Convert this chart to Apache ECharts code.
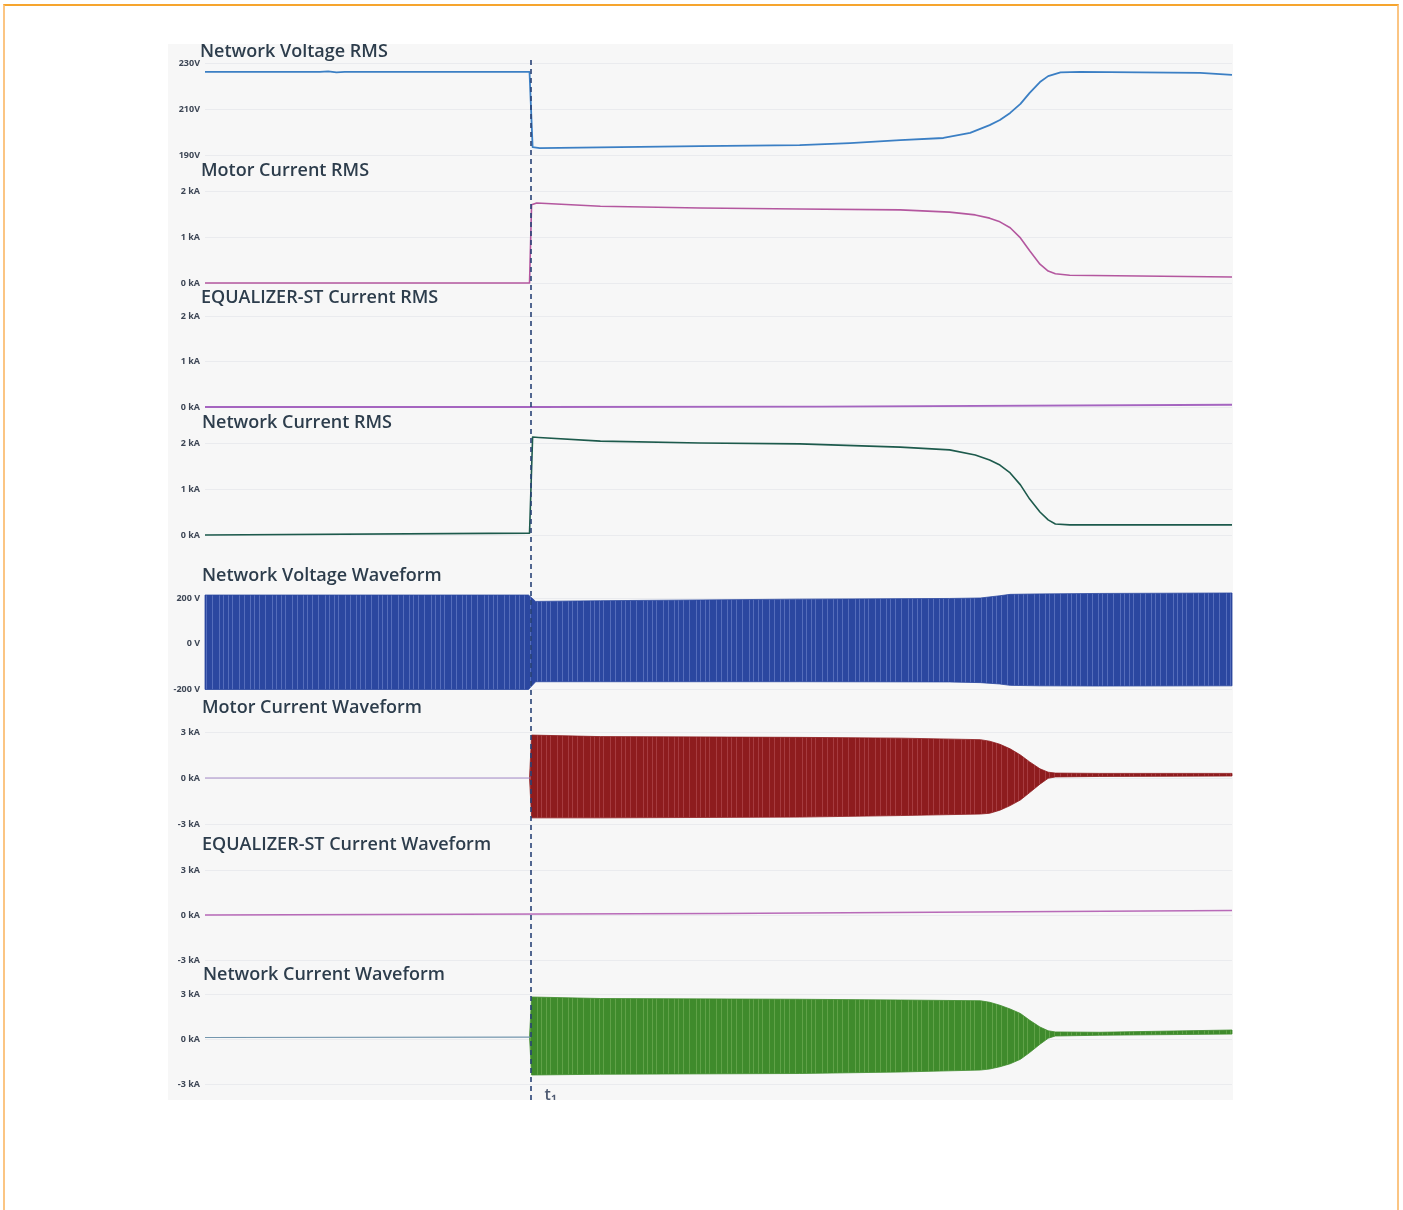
<!DOCTYPE html>
<html><head><meta charset="utf-8">
<script src="https://cdn.jsdelivr.net/npm/echarts@6/dist/echarts.min.js"></script>
<style>
html,body{margin:0;padding:0;background:#fff;width:1403px;height:1210px;overflow:hidden;}
#frame{position:absolute;left:3px;top:4px;width:1396px;height:1230px;border-top:2px solid #f6a52e;border-left:2px solid #fbc583;border-right:2px solid #fbc583;box-sizing:border-box;}
#chart{position:absolute;left:168px;top:44px;width:1065px;height:1056px;background:#f7f7f7;}
</style></head><body>
<div id="frame"></div>
<div id="chart"></div>
<script>
// ---------- DATA (time axis is unitless 0..100) ----------
const EVENT_T = 31.7;
const EVENT_LABEL = 't₁';

const panelTitles = [
  'Network Voltage RMS',
  'Motor Current RMS',
  'EQUALIZER-ST Current RMS',
  'Network Current RMS',
  'Network Voltage Waveform',
  'Motor Current Waveform',
  'EQUALIZER-ST Current Waveform',
  'Network Current Waveform'
];

// tick values / labels per panel
const vRmsTicks = [190, 210, 230];
const vRmsLabels = ['190V', '210V', '230V'];
const iRmsTicks = [0, 1, 2];
const iRmsLabels = ['0 kA', '1 kA', '2 kA'];
const vWaveTicks = [-200, 0, 200];
const vWaveLabels = ['-200 V', '0 V', '200 V'];
const iWaveTicks = [-3, 0, 3];
const iWaveLabels = ['-3 kA', '0 kA', '3 kA'];

// Network Voltage RMS (V)
const voltRmsT = [0, 11.2, 12.0, 12.8, 13.6, 31.6, 31.9, 32.6, 48.2, 57.9, 62.8, 67.7, 71.9, 74.5, 76.4, 77.4, 78.4, 79.4, 80.3, 81.3, 82.1, 83.3, 85.2, 96.9, 100];
const voltRmsV = [226.1, 226.1, 226.4, 225.9, 226.1, 226.1, 193.4, 193.0, 193.9, 194.3, 195.2, 196.5, 197.4, 199.6, 203.0, 205.2, 208.3, 212.2, 217.0, 221.7, 224.3, 225.9, 226.1, 225.7, 224.8];

// Motor Current RMS (kA)
const motorRmsT = [0, 31.6, 31.8, 32.3, 38.5, 48.2, 57.9, 67.7, 72.5, 75.0, 76.4, 77.4, 78.4, 79.4, 80.3, 81.3, 82.1, 82.8, 84.2, 100];
const motorRmsV = [0, 0, 1.70, 1.74, 1.67, 1.63, 1.61, 1.59, 1.54, 1.48, 1.41, 1.33, 1.20, 0.98, 0.70, 0.41, 0.26, 0.20, 0.17, 0.13];

// EQUALIZER-ST Current RMS (kA)
const eqRmsT = [0, 31.7, 60, 100];
const eqRmsV = [0, 0, 0.01, 0.05];

// Network Current RMS (kA)
const netRmsT = [0, 31.6, 31.9, 32.5, 38.5, 48.2, 57.9, 67.7, 72.5, 75.0, 76.4, 77.4, 78.4, 79.4, 80.3, 81.3, 82.1, 82.8, 84.2, 100];
const netRmsV = [0, 0.04, 2.13, 2.12, 2.04, 2.00, 1.98, 1.91, 1.85, 1.74, 1.63, 1.52, 1.35, 1.09, 0.78, 0.50, 0.33, 0.24, 0.22, 0.22];

// Network Voltage Waveform envelope (V)
const voltWaveT = [0, 31.5, 32.2, 38.5, 57.9, 72.5, 75.5, 77.4, 78.4, 81.3, 87.1, 100];
const voltWaveUp = [213, 213, 185, 188, 195, 198, 200, 210, 216, 218, 220, 222];
const voltWaveLo = [-202, -202, -168, -168, -168, -169, -172, -178, -184, -186, -187, -186];

// Motor Current Waveform (kA): zero line before t1, envelope after
const motorPreT = [0, 31.7];
const motorPreV = [0, 0];
const motorWaveT = [31.6, 31.8, 38.5, 57.9, 67.7, 75.5, 76.4, 77.4, 78.4, 79.4, 80.3, 81.3, 82.1, 82.8, 87.1, 100];
const motorWaveUp = [0, 2.80, 2.70, 2.65, 2.60, 2.50, 2.40, 2.20, 1.90, 1.50, 1.05, 0.60, 0.38, 0.32, 0.30, 0.30];
const motorWaveLo = [0, -2.60, -2.60, -2.55, -2.45, -2.35, -2.30, -2.10, -1.80, -1.43, -0.95, -0.40, -0.02, 0.07, 0.10, 0.13];

// EQUALIZER-ST Current Waveform (kA)
const eqWaveT = [0, 50, 100];
const eqWaveV = [0, 0.1, 0.3];

// Network Current Waveform (kA)
const netPreT = [0, 31.7];
const netPreV = [0.10, 0.13];
const netWaveT = [31.6, 31.8, 38.5, 57.9, 67.7, 75.5, 76.4, 77.4, 78.4, 79.4, 80.3, 81.3, 82.1, 82.8, 87.1, 100];
const netWaveUp = [0.13, 2.80, 2.70, 2.65, 2.60, 2.55, 2.45, 2.25, 2.00, 1.70, 1.25, 0.80, 0.55, 0.47, 0.45, 0.60];
const netWaveLo = [0.13, -2.40, -2.35, -2.30, -2.20, -2.07, -2.00, -1.85, -1.65, -1.35, -0.90, -0.35, 0.05, 0.20, 0.25, 0.33];

// ---------- LAYOUT / STYLE ----------
const gridTops = [19, 147, 272, 399, 554, 688, 826, 950];
const gridHeights = [92, 92, 91, 92, 91, 92, 90, 90];
const titleTops = [-1, 118, 245, 370, 523, 655, 792, 922];
const titleLefts = [32, 33, 33, 34, 34, 34, 34, 35];
const GL = 37, GR = 1;

const pairs = (t, v) => t.map((x, i) => [x, v[i]]);
const fmt = (ticks, labels) => (val) => {
  const i = ticks.findIndex(t => Math.abs(t - val) < 1e-9);
  return i >= 0 ? labels[i] : '';
};

// streaky fill texture for the dense waveforms (style only)
const STREAK_X = [2, 7, 11, 18, 23, 29, 33, 38, 44, 51];
function streakPattern(base, streak) {
  const c = document.createElement('canvas');
  c.width = 53; c.height = 16;
  const ctx = c.getContext('2d');
  ctx.fillStyle = base; ctx.fillRect(0, 0, c.width, c.height);
  ctx.fillStyle = streak;
  STREAK_X.forEach(x => ctx.fillRect(x, 0, 1, c.height));
  return { image: c, repeat: 'repeat' };
}

const axisDefs = [
  [vRmsTicks, vRmsLabels],
  [iRmsTicks, iRmsLabels],
  [iRmsTicks, iRmsLabels],
  [iRmsTicks, iRmsLabels],
  [vWaveTicks, vWaveLabels],
  [iWaveTicks, iWaveLabels],
  [iWaveTicks, iWaveLabels],
  [iWaveTicks, iWaveLabels]
];

const grid = gridTops.map((t, i) => ({ left: GL, right: GR, top: t, height: gridHeights[i] }));
grid.push({ left: GL, right: GR, top: 16, bottom: 0 });

const xAxis = grid.map((g, i) => ({ type: 'value', gridIndex: i, min: 0, max: 100, show: false }));

const yAxis = axisDefs.map(([ticks, labels], i) => ({
  type: 'value', gridIndex: i,
  min: ticks[0], max: ticks[ticks.length - 1], interval: ticks[1] - ticks[0],
  axisLine: { show: false }, axisTick: { show: false },
  splitLine: { show: true, lineStyle: { color: 'rgba(190,195,210,0.22)', width: 1 } },
  axisLabel: {
    formatter: fmt(ticks, labels), fontSize: 9, color: '#3e4756',
    fontFamily: 'Open Sans', fontWeight: 'bold', margin: 5
  }
}));
yAxis.push({ type: 'value', gridIndex: 8, min: 0, max: 1, show: false });

const title = panelTitles.map((txt, i) => ({
  text: txt, left: titleLefts[i], top: titleTops[i],
  textStyle: { fontFamily: 'Open Sans', fontSize: 18, fontWeight: 600, color: '#2d3d4c' },
  padding: 0
}));

const lineS = (gi, data, color, width) => ({
  type: 'line', xAxisIndex: gi, yAxisIndex: gi, data, showSymbol: false, symbol: 'none',
  clip: false, lineStyle: { color, width, join: 'round' }, silent: true, z: 3
});

// band between an upper and a lower envelope, positioned through the axes (api.coord)
const bandS = (gi, t, up, lo, color, streak) => {
  const fill = streakPattern(color, streak);
  return {
    type: 'custom', xAxisIndex: gi, yAxisIndex: gi, silent: true, z: 2, clip: false,
    data: t.map((x, i) => [x, up[i], lo[i]]),
    encode: { x: 0, y: [1, 2] },
    renderItem: (params, api) => {
      if (params.dataIndexInside !== 0) return null;
      const n = params.dataInsideLength;
      const top = [], bot = [];
      for (let j = 0; j < n; j++) {
        top.push(api.coord([api.value(0, j), api.value(1, j)]));
        bot.push(api.coord([api.value(0, j), api.value(2, j)]));
      }
      return {
        type: 'polygon',
        shape: { points: top.concat(bot.reverse()), smooth: 0 },
        style: { fill, stroke: color, lineWidth: 0.8, lineJoin: 'round' }
      };
    }
  };
};

const series = [
  lineS(0, pairs(voltRmsT, voltRmsV), '#3b7fc4', 1.8),
  lineS(1, pairs(motorRmsT, motorRmsV), '#b4579f', 1.6),
  lineS(2, pairs(eqRmsT, eqRmsV), '#a565c0', 1.8),
  lineS(3, pairs(netRmsT, netRmsV), '#1d5a4c', 1.6),
  bandS(4, voltWaveT, voltWaveUp, voltWaveLo, '#2b47a0', 'rgba(120,140,210,0.55)'),
  lineS(5, pairs(motorPreT, motorPreV), '#a58cc8', 1.2),
  bandS(5, motorWaveT, motorWaveUp, motorWaveLo, '#8e1c1e', 'rgba(190,90,95,0.5)'),
  lineS(6, pairs(eqWaveT, eqWaveV), '#b86ab8', 1.6),
  lineS(7, pairs(netPreT, netPreV), '#7396ae', 1.2),
  bandS(7, netWaveT, netWaveUp, netWaveLo, '#3f8b2c', 'rgba(130,185,100,0.5)'),
  {
    type: 'line', xAxisIndex: 8, yAxisIndex: 8, data: [], z: 10, silent: true,
    markLine: {
      symbol: 'none', silent: true, animation: false,
      lineStyle: { color: '#284276', width: 1.6, type: [5, 4] },
      label: { show: false },
      data: [{ xAxis: EVENT_T }]
    }
  },
  {
    type: 'scatter', xAxisIndex: 8, yAxisIndex: 8, data: [[EVENT_T, 0]], symbolSize: 0, silent: true, z: 10,
    label: { show: true, position: 'right', formatter: EVENT_LABEL, offset: [9, -5],
      fontFamily: 'Open Sans', fontSize: 16, color: '#23324f', fontWeight: 600 }
  }
];

const chart = echarts.init(document.getElementById('chart'), null, { renderer: 'canvas' });
chart.setOption({ animation: false, backgroundColor: '#f7f7f7', title, grid, xAxis, yAxis, series });
</script>
</body></html>
